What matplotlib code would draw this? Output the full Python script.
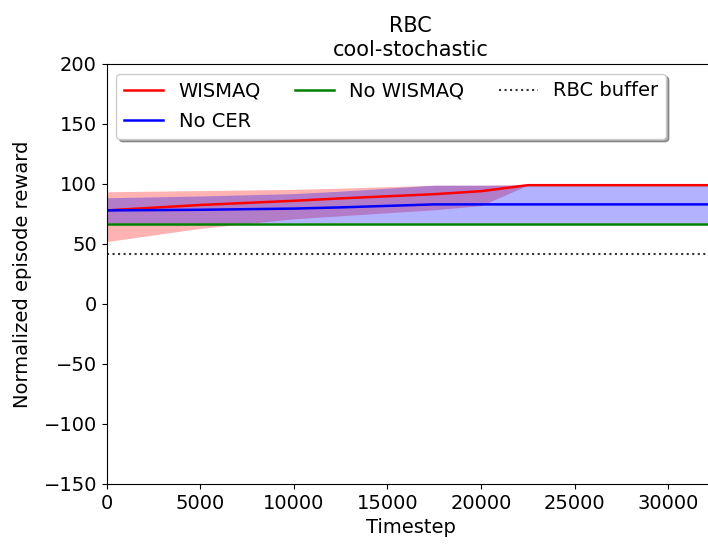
import numpy as np
import matplotlib.pyplot as plt

# values
timesteps = np.array([0, 5000, 10000, 12500, 17500, 20000, 22500, 27500, 32500])

wismaq_mean = np.array([78, 82.5, 86, 88, 91.5, 94, 99, 99, 99])
wismaq_upper = np.array([93.5, 94.5, 95.5, 96.5, 99, 99, 99.5, 99.5, 99.5])
wismaq_lower = np.array([52, 63, 71, 73.5, 78.5, 82, 99, 99, 99])

nocer_mean = np.array([78, 78.5, 79.5, 80.5, 83, 83, 83, 83, 83])
nocer_upper = np.array([88.5, 90, 92, 94, 99, 99, 99, 99, 99])
nocer_lower = np.array([67.5, 67.5, 67.5, 67.5, 67.5, 67.5, 67.5, 67.5, 67.5])

nowismaq_mean = np.array([67, 67, 67, 67, 67, 67, 67, 67, 67])
rbc_buffer = 42

fig = plt.figure(figsize=(7.08, 5.46), dpi=100)
ax = fig.add_axes([0.1507, 0.1136, 0.859, 0.7692])

ax.plot(timesteps, wismaq_mean, 'r', lw=1.8, label='WISMAQ')
ax.fill_between(timesteps, wismaq_lower, wismaq_upper, color='r', alpha=0.3, linewidth=0)
ax.plot(timesteps, nocer_mean, 'b', lw=1.8, label='No CER')
ax.fill_between(timesteps, nocer_lower, nocer_upper, color='b', alpha=0.3, linewidth=0)
ax.plot(timesteps, nowismaq_mean, 'g', lw=1.8, label='No WISMAQ')
ax.axhline(rbc_buffer, color='k', linestyle=':', lw=1.5, alpha=0.8, label='RBC buffer')

ax.set_xlim(0, timesteps[-1])
ax.set_ylim(-150, 200)
ax.tick_params(labelsize=14)
ax.set_xlabel('Timestep', fontsize=14)
ax.set_ylabel('Normalized episode reward', fontsize=14, labelpad=8)
ax.set_title('RBC\ncool-stochastic', fontsize=15)
ax.legend(loc='upper left', ncol=3, fontsize=14, shadow=True,
          columnspacing=1.75, labelspacing=0.6)

fig.savefig('out.png', dpi=100)
